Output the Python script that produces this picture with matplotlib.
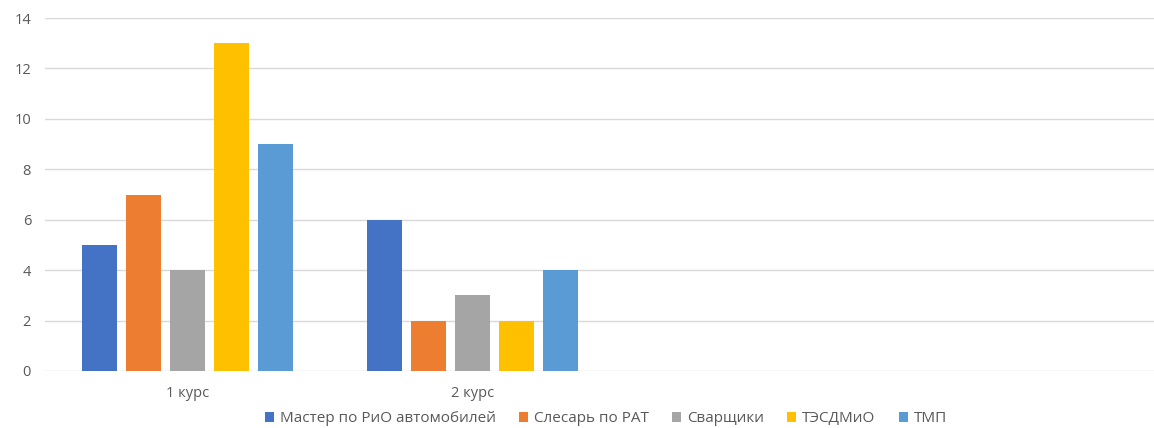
import matplotlib.pyplot as plt
import numpy as np

# enrollment by course and specialty
courses = ['1 курс', '2 курс', '', '']
series = ['Мастер по РиО автомобилей', 'Слесарь по РАТ', 'Сварщики', 'ТЭСДМиО', 'ТМП']
master = [5, 6]
slesar = [7, 2]
svarshiki = [4, 3]
tesdmio = [13, 2]
tmp = [9, 4]
colors = ['#4472C4', '#ED7D31', '#A5A5A5', '#FFC000', '#5B9BD5']

plt.rcParams['font.family'] = ['Open Sans', 'DejaVu Sans']

fig = plt.figure(figsize=(11.54, 4.28), dpi=100)
ax = fig.add_axes([45 / 1154, 1 - 371 / 428, 1140 / 1154, 353 / 428])

x = np.arange(len(courses))
step = 0.155
width = 0.123
for i, (name, vals, c) in enumerate(zip(series, [master, slesar, svarshiki, tesdmio, tmp], colors)):
    ax.bar(x[:len(vals)] + (i - 2) * step, vals, width, color=c, label=name, zorder=2)

ax.set_xlim(-0.5, 3.5)
ax.set_ylim(0, 14)
ax.set_yticks(range(0, 15, 2))
ax.set_xticks(x)
ax.set_xticklabels(courses)
ax.grid(axis='y', color='#D9D9D9', linewidth=1, zorder=0)
for s in ax.spines.values():
    s.set_visible(False)
ax.tick_params(axis='both', length=0, colors='#595959', labelsize=10.5)
ax.tick_params(axis='y', pad=10)
ax.tick_params(axis='x', pad=11)

fig.legend(loc='lower center', bbox_to_anchor=(0.525, -0.028), ncol=5, frameon=False,
           fontsize=11, handlelength=0.6, handleheight=0.6, handletextpad=0.4,
           columnspacing=1.5, labelcolor='#595959')

fig.savefig('out.png', dpi=100)
